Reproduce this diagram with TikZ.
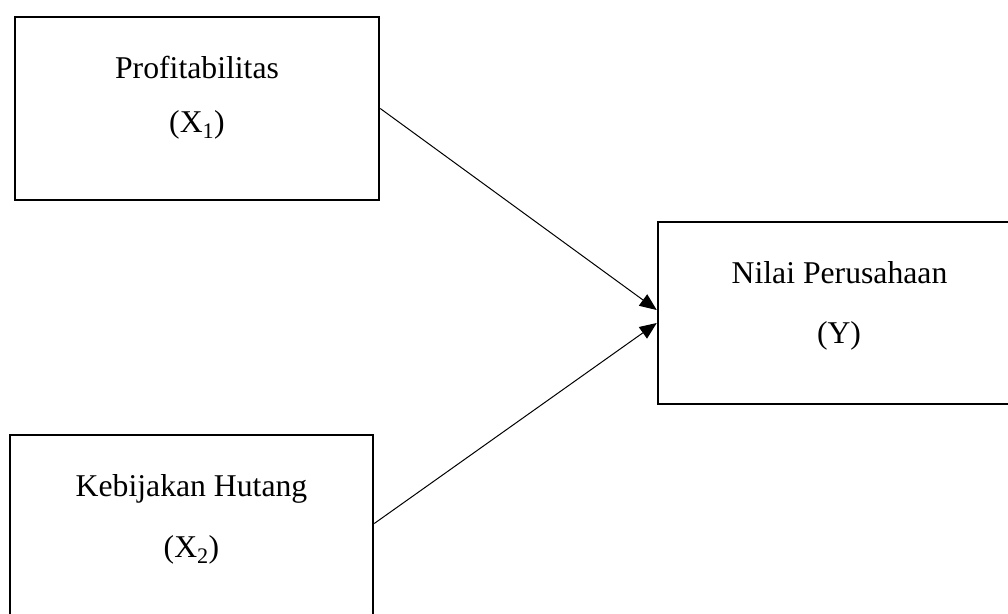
\documentclass[tikz,border=0pt]{standalone}
\usepackage{fontspec}
\setmainfont{Liberation Serif}
\usetikzlibrary{arrows.meta}
\tikzset{
  box/.style={draw, line width=2.5pt, rectangle, inner sep=0pt},
  lbl/.style={anchor=base, inner sep=0pt, font=\fontsize{31.7}{38}\selectfont},
  link/.style={line width=1pt, -{Triangle[length=17pt,width=14pt]}}
}
\begin{document}
\begin{tikzpicture}[x=1pt,y=-1pt]
\useasboundingbox (0,0) rectangle (1008,613);
\node[box, minimum width=364pt, minimum height=183pt] (b1) at (197,108.5) {};
\node[box, minimum width=363pt, minimum height=181pt] (b2) at (191.5,525.5) {};
\node[box, minimum width=354pt, minimum height=182pt] (b3) at (835,313) {};
\node[lbl] (t1) at (197,78) {Profitabilitas};
\node[lbl] (t1b) at (197,132) {(X\textsubscript{1})};
\node[lbl] (t2) at (191.5,496) {Kebijakan Hutang};
\node[lbl] (t2b) at (191.5,557) {(X\textsubscript{2})};
\node[lbl] (t3) at (839.5,283) {Nilai Perusahaan};
\node[lbl] (t3b) at (839,343) {(Y)};
\draw[link] (b1.east) -- ([yshift=3pt]b3.west);
\draw[link] ([yshift=2pt]b2.east) -- ([yshift=-10pt]b3.west);
\end{tikzpicture}
\end{document}
